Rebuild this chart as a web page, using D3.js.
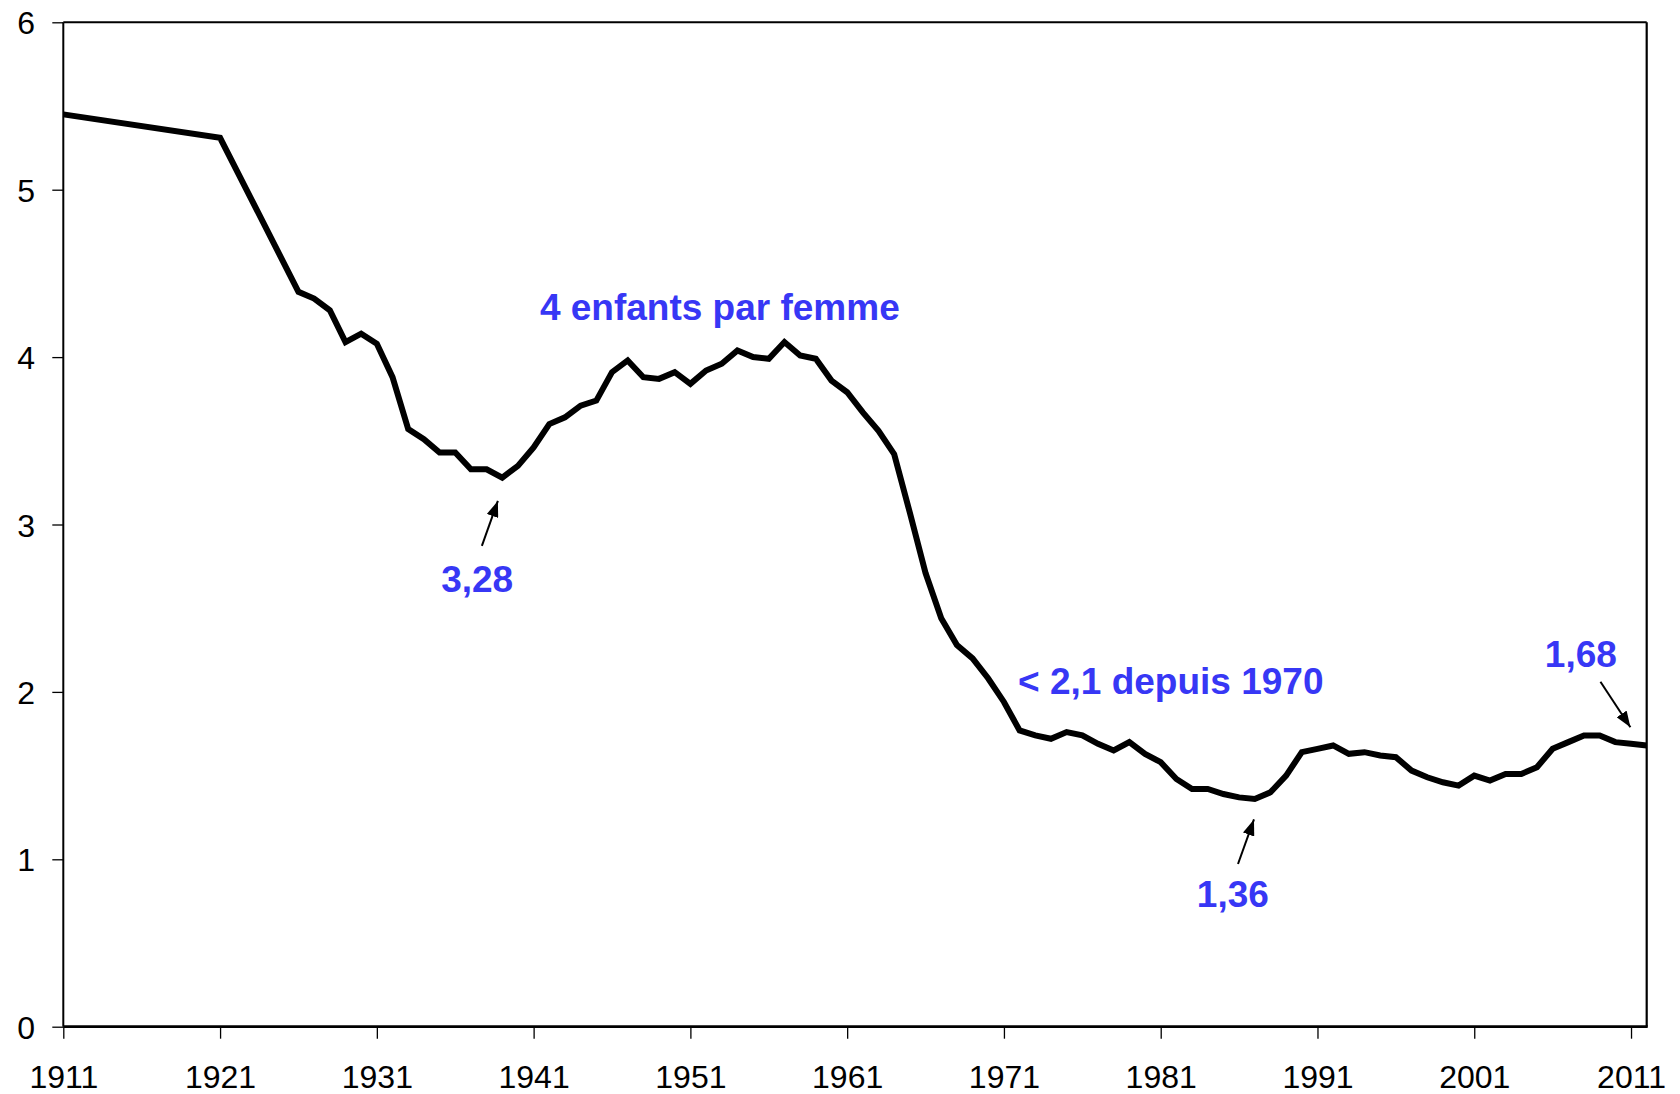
<!DOCTYPE html>
<html>
<head>
<meta charset="utf-8">
<script src="https://cdn.jsdelivr.net/npm/d3@7"></script>
<style>
  html, body { margin: 0; padding: 0; background: #fff; }
  svg text { font-family: "Liberation Sans", Arial, sans-serif; }
</style>
</head>
<body>
<svg id="chart" width="1680" height="1094"></svg>
<script>
// Years and total fertility rate (children per woman)
const years = [1911, 1921, 1926, 1927, 1928, 1929, 1930, 1931, 1932, 1933, 1934, 1935, 1936, 1937, 1938, 1939,
  1940, 1941, 1942, 1943, 1944, 1945, 1946, 1947, 1948, 1949, 1950, 1951, 1952, 1953, 1954, 1955, 1956, 1957,
  1958, 1959, 1960, 1961, 1962, 1963, 1964, 1965, 1966, 1967, 1968, 1969, 1970, 1971, 1972, 1973, 1974, 1975,
  1976, 1977, 1978, 1979, 1980, 1981, 1982, 1983, 1984, 1985, 1986, 1987, 1988, 1989, 1990, 1991, 1992, 1993,
  1994, 1995, 1996, 1997, 1998, 1999, 2000, 2001, 2002, 2003, 2004, 2005, 2006, 2007, 2008, 2009, 2010, 2011, 2012];
const fertility = [5.45, 5.31, 4.39, 4.35, 4.28, 4.09, 4.14, 4.08, 3.88, 3.57, 3.51, 3.43, 3.43, 3.33, 3.33, 3.28,
  3.35, 3.46, 3.60, 3.64, 3.71, 3.74, 3.91, 3.98, 3.88, 3.87, 3.91, 3.84, 3.92, 3.96, 4.04, 4.00, 3.99, 4.09,
  4.01, 3.99, 3.86, 3.79, 3.67, 3.56, 3.42, 3.07, 2.71, 2.44, 2.28, 2.20, 2.08, 1.94, 1.77, 1.74, 1.72, 1.76,
  1.74, 1.69, 1.65, 1.70, 1.63, 1.58, 1.48, 1.42, 1.42, 1.39, 1.37, 1.36, 1.40, 1.50, 1.64, 1.66, 1.68, 1.63,
  1.64, 1.62, 1.61, 1.53, 1.49, 1.46, 1.44, 1.50, 1.47, 1.51, 1.51, 1.55, 1.66, 1.70, 1.74, 1.74, 1.70, 1.69, 1.68];

const xTicks = [1911, 1921, 1931, 1941, 1951, 1961, 1971, 1981, 1991, 2001, 2011];
const yTicks = [0, 1, 2, 3, 4, 5, 6];

// annotation texts, placed in data units (year, value)
const labels = [
  { text: '4 enfants par femme', year: 1941.4, value: 4.222, anchor: 'start' },
  { text: '< 2,1 depuis 1970', year: 1971.9, value: 1.987, anchor: 'start' },
  { text: '3,28', year: 1937.4, value: 2.597, anchor: 'middle' },
  { text: '1,36', year: 1985.6, value: 0.715, anchor: 'middle' },
  { text: '1,68', year: 2007.8, value: 2.150, anchor: 'middle' }
];
const arrows = [
  { from: [1937.7, 2.872], to: [1938.72, 3.141] },
  { from: [1985.93, 0.972], to: [1986.95, 1.238] },
  { from: [2009.05, 2.061], to: [2010.96, 1.789] }
];

const plotLeft = 63.3, plotRight = 1646.7, plotTop = 22.3, plotBottom = 1026.7;
const blue = '#3737f5';

const svg = d3.select('#chart');

const x = d3.scaleLinear().domain([1911, 2012]).range([plotLeft, plotRight]);
const y = d3.scaleLinear().domain([0, 6]).range([plotBottom, plotTop]);

// x axis
const xAxis = svg.append('g')
  .attr('transform', `translate(0,${plotBottom})`)
  .call(d3.axisBottom(x).tickValues(xTicks).tickFormat(d3.format('d')).tickSize(12).tickSizeOuter(0));
xAxis.select('.domain').remove();
xAxis.selectAll('line').attr('stroke', '#000').attr('stroke-width', 1.3);
xAxis.selectAll('text')
  .attr('y', 61.3).attr('dy', 0)
  .attr('font-size', 32).attr('fill', '#000')
  .style('font-family', '"Liberation Sans", Arial, sans-serif');

// y axis
const yAxis = svg.append('g')
  .attr('transform', `translate(${plotLeft},0)`)
  .call(d3.axisLeft(y).tickValues(yTicks).tickFormat(d3.format('d')).tickSize(11).tickSizeOuter(0));
yAxis.select('.domain').remove();
yAxis.selectAll('line').attr('stroke', '#000').attr('stroke-width', 1.3);
yAxis.selectAll('text')
  .attr('x', -28.3).attr('dy', '0.36em')
  .attr('font-size', 32).attr('fill', '#000')
  .style('font-family', '"Liberation Sans", Arial, sans-serif');

// plot frame
svg.append('line').attr('x1', plotLeft).attr('x2', plotRight).attr('y1', plotTop).attr('y2', plotTop)
  .attr('stroke', '#000').attr('stroke-width', 2);
svg.append('line').attr('x1', plotRight).attr('x2', plotRight).attr('y1', plotTop).attr('y2', plotBottom)
  .attr('stroke', '#000').attr('stroke-width', 2.2);
svg.append('line').attr('x1', plotLeft).attr('x2', plotLeft).attr('y1', plotTop).attr('y2', plotBottom)
  .attr('stroke', '#000').attr('stroke-width', 2);
svg.append('line').attr('x1', plotLeft).attr('x2', plotRight + 1).attr('y1', plotBottom).attr('y2', plotBottom)
  .attr('stroke', '#000').attr('stroke-width', 2.8);

// the series line
const points = years.map((yr, i) => [yr, fertility[i]]);
const line = d3.line().x(d => x(d[0])).y(d => y(d[1]));
svg.append('path')
  .datum(points)
  .attr('d', line)
  .attr('fill', 'none')
  .attr('stroke', '#000')
  .attr('stroke-width', 6)
  .attr('stroke-linejoin', 'miter');

// arrow marker
svg.append('defs').append('marker')
  .attr('id', 'head')
  .attr('viewBox', '0 0 16 12')
  .attr('refX', 16).attr('refY', 6)
  .attr('markerWidth', 16).attr('markerHeight', 12)
  .attr('markerUnits', 'userSpaceOnUse')
  .attr('orient', 'auto')
  .append('path')
  .attr('d', 'M0,0 L16,6 L0,12 Z')
  .attr('fill', '#000');

svg.selectAll('line.arrow')
  .data(arrows)
  .enter()
  .append('line')
  .attr('class', 'arrow')
  .attr('x1', d => x(d.from[0])).attr('y1', d => y(d.from[1]))
  .attr('x2', d => x(d.to[0])).attr('y2', d => y(d.to[1]))
  .attr('stroke', '#000').attr('stroke-width', 2)
  .attr('marker-end', 'url(#head)');

svg.selectAll('text.note')
  .data(labels)
  .enter()
  .append('text')
  .attr('class', 'note')
  .attr('x', d => x(d.year))
  .attr('y', d => y(d.value))
  .attr('text-anchor', d => d.anchor)
  .attr('font-size', 37)
  .attr('font-weight', 'bold')
  .attr('fill', blue)
  .text(d => d.text);
</script>
</body>
</html>
